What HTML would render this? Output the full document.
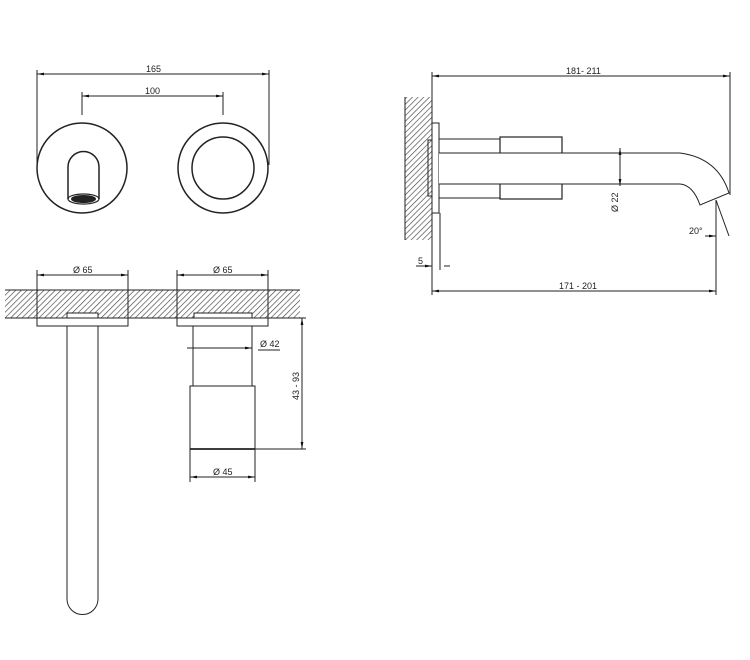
<!DOCTYPE html>
<html><head><meta charset="utf-8"><style>
html,body{margin:0;padding:0;background:#fff;width:750px;height:660px;overflow:hidden}
svg text{font-family:"Liberation Sans",sans-serif;font-size:9px;fill:#222}
</style></head><body>
<svg width="750" height="660" viewBox="0 0 750 660" xmlns="http://www.w3.org/2000/svg">
<defs>
<pattern id="h" width="4" height="4" patternUnits="userSpaceOnUse" patternTransform="rotate(45)">
<rect width="4" height="4" fill="#fff"/><line x1="0" y1="0" x2="0" y2="4" stroke="#444" stroke-width="1.3"/>
</pattern>
<marker id="a" viewBox="0 0 10 10" refX="10" refY="5" markerWidth="7" markerHeight="7" orient="auto-start-reverse"><path d="M0,3 L10,5 L0,7z" fill="#111"/></marker>
</defs>
<g stroke="#222" stroke-width="1" fill="none">
<!-- top left -->
<line x1="37" y1="70" x2="37" y2="165"/><line x1="269" y1="70" x2="269" y2="165"/>
<line x1="37" y1="74" x2="269" y2="74" marker-start="url(#a)" marker-end="url(#a)"/>
<line x1="82" y1="92" x2="82" y2="115"/><line x1="223" y1="92" x2="223" y2="115"/>
<line x1="82" y1="96" x2="223" y2="96" marker-start="url(#a)" marker-end="url(#a)"/>
<circle cx="82" cy="168" r="45" stroke-width="1.5"/>
<path d="M68,199 V167 A15.5,15.5 0 0 1 99,167 V199" stroke-width="1.5"/>
<ellipse cx="83.5" cy="199" rx="15.5" ry="5" stroke-width="1.2"/>
<ellipse cx="83.5" cy="199" rx="12" ry="3.5" fill="#222"/>
<circle cx="223" cy="168" r="45" stroke-width="1.5"/>
<circle cx="223" cy="168" r="31" stroke-width="1.5"/>
<!-- bottom -->
<rect x="5" y="290" width="295" height="28" fill="url(#h)" stroke="none"/>
<path d="M5,290 H300 M5,318 H300 M37,290 V318 M128,290 V318 M177,290 V318 M268,290 V318" />
<line x1="37" y1="270" x2="37" y2="290"/><line x1="128" y1="270" x2="128" y2="290"/>
<line x1="37" y1="275" x2="128" y2="275" marker-start="url(#a)" marker-end="url(#a)"/>
<line x1="177" y1="270" x2="177" y2="290"/><line x1="268" y1="270" x2="268" y2="290"/>
<line x1="177" y1="275" x2="268" y2="275" marker-start="url(#a)" marker-end="url(#a)"/>
<rect x="37" y="318" width="91" height="8" fill="#fff"/>
<rect x="67" y="313" width="31" height="5" fill="#fff"/>
<rect x="177" y="318" width="91" height="8" fill="#fff"/>
<rect x="194" y="313" width="58" height="5" fill="#fff"/>
<path d="M67,326 V599 A15.5,15.5 0 0 0 98,599 V326"/>
<rect x="193" y="326" width="59" height="60"/>
<rect x="190" y="386" width="65" height="63"/>
<line x1="190" y1="449" x2="255" y2="449" stroke-width="1.8"/>
<line x1="187" y1="348" x2="252" y2="348" marker-end="url(#a)"/>
<line x1="258" y1="350" x2="280" y2="350"/>
<line x1="268" y1="318" x2="306" y2="318"/><line x1="255" y1="449" x2="306" y2="449"/>
<line x1="302" y1="318" x2="302" y2="449" marker-start="url(#a)" marker-end="url(#a)"/>
<line x1="190" y1="449" x2="190" y2="482"/><line x1="255" y1="449" x2="255" y2="482"/>
<line x1="190" y1="477" x2="255" y2="477" marker-start="url(#a)" marker-end="url(#a)"/>
<!-- right -->
<rect x="405" y="97" width="27" height="143" fill="url(#h)" stroke="none"/>
<path d="M405,97 V240 M432,97 V240"/>
<line x1="432" y1="72" x2="432" y2="295"/><line x1="730" y1="72" x2="730" y2="195"/>
<line x1="432" y1="76" x2="730" y2="76" marker-start="url(#a)" marker-end="url(#a)"/>
<rect x="432" y="123" width="7" height="90" fill="#fff"/>
<rect x="428" y="140" width="4" height="56"/>
<path d="M439,139 H500 M439,198 H500"/>
<rect x="500" y="137" width="62" height="62" stroke-width="1.2"/>
<path d="M439,153 H680 Q718,158 729,193 L700,205 Q693,185 680,184 H439" fill="#fff"/>
<line x1="620" y1="148" x2="620" y2="186" marker-start="url(#a)" marker-end="url(#a)"/>
<line x1="716" y1="200" x2="716" y2="295"/>
<line x1="716" y1="200" x2="729" y2="236"/>
<line x1="705" y1="236" x2="716" y2="236" marker-end="url(#a)"/>
<line x1="440" y1="213" x2="440" y2="270"/>
<line x1="416" y1="266" x2="432" y2="266" marker-end="url(#a)"/>
<line x1="444" y1="266" x2="450" y2="266"/>
<line x1="432" y1="291" x2="716" y2="291" marker-start="url(#a)" marker-end="url(#a)"/>
</g>
<text x="146" y="72">165</text>
<text x="145" y="94">100</text>
<text x="73" y="273">Ø 65</text>
<text x="213" y="273">Ø 65</text>
<text x="260" y="347">Ø 42</text>
<text x="213" y="475">Ø 45</text>
<text transform="translate(299,400) rotate(-90)">43 - 93</text>
<text x="566" y="74">181- 211</text>
<text x="559" y="289">171 - 201</text>
<text x="418" y="264">5</text>
<text x="689" y="234">20°</text>
<text transform="translate(618,212) rotate(-90)">Ø 22</text>
</svg>
</body></html>
